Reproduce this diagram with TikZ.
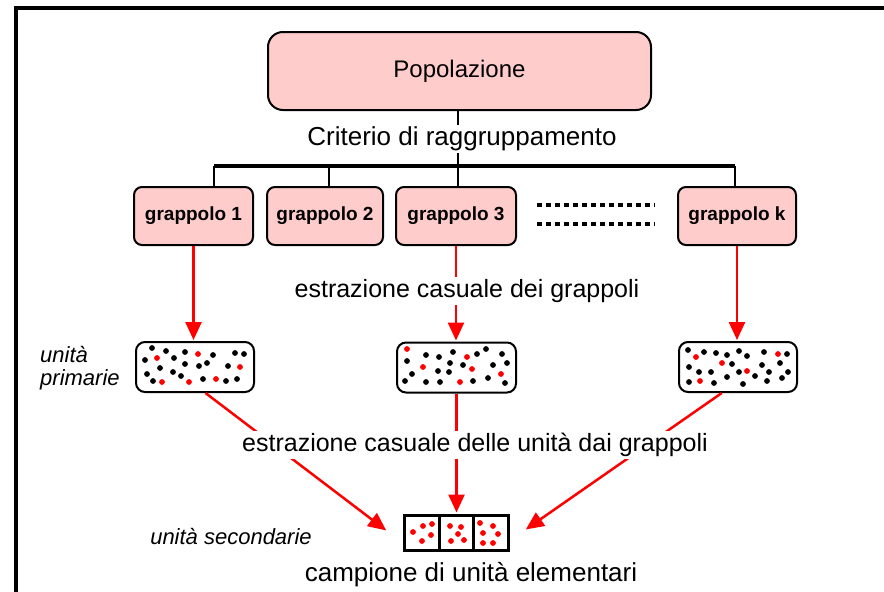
\documentclass[tikz,border=0pt]{standalone}
\usepackage{fontspec}
\setmainfont{Liberation Sans}
\usetikzlibrary{arrows.meta}
\definecolor{pinkfill}{HTML}{FFCCCC}
\definecolor{redline}{HTML}{FF0000}
\begin{document}
\begin{tikzpicture}[x=1pt,y=-1pt,
  popbox/.style={draw, line width=2pt, fill=pinkfill, rounded corners=15pt, inner sep=0pt, font=\fontsize{24}{28}\selectfont},
  gbox/.style={draw, line width=2pt, fill=pinkfill, rounded corners=8pt, inner sep=0pt, minimum height=58pt, font=\fontsize{19}{23}\selectfont\bfseries},
  pbox/.style={draw, line width=2pt, fill=white, rounded corners=9pt, inner sep=0pt, minimum width=118pt, minimum height=50pt},
  sbox/.style={draw, line width=3pt, fill=white, inner sep=0pt, minimum width=34.5pt, minimum height=35pt},
  label/.style={font=\fontsize{25}{30}\selectfont, inner sep=2pt},
  masklabel/.style={label, fill=white},
  ital/.style={font=\fontsize{22}{23}\selectfont\itshape, inner sep=0pt},
  treeline/.style={line width=2.5pt},
  barline/.style={line width=3.5pt},
  dashrow/.style={line width=4pt, dash pattern=on 5pt off 4pt},
  redarrow/.style={draw=redline, line width=2.5pt, -{Triangle[width=16pt,length=18pt]}, redline, shorten >=1pt},
  bdot/.style={fill=black},
  rdot/.style={fill=redline}
]
\useasboundingbox (0,0) rectangle (884,592);
% frame
\draw[line width=3.5pt] (16,600) -- (16,8) -- (900,8);

% top box
\node[popbox, minimum width=383pt, minimum height=78pt] (pop) at (459.5,71) {Popolazione};
\node[label, font=\fontsize{26}{30}\selectfont] (crit) at (462,139) {Criterio di raggruppamento};

% cluster boxes
\node[gbox, minimum width=119pt] (g1) at (193.5,216) {grappolo 1};
\node[gbox, minimum width=116pt] (g2) at (325,216) {grappolo 2};
\node[gbox, minimum width=120pt] (g3) at (456,216) {grappolo 3};
\node[gbox, minimum width=118pt] (gk) at (737,216) {grappolo k};

% tree
\coordinate (d1) at (214,166);
\coordinate (d2) at (329,166);
\coordinate (d3) at (458,166);
\coordinate (dk) at (735,166);
\draw[treeline] (pop.south -| d3) -- (crit.north -| d3);
\draw[treeline] (crit.south -| d3) -- (d3);
\draw[barline] (d1) -- (dk);
\draw[treeline] (d1) -- (d1 |- g1.north);
\draw[treeline] (d2) -- (d2 |- g2.north);
\draw[treeline] (d3) -- (d3 |- g3.north);
\draw[treeline] (dk) -- (dk |- gk.north);

% dotted rows
\draw[dashrow] (537,205) -- (655,205);
\draw[dashrow] (537,224) -- (655,224);

% primary boxes
\node[pbox] (p1) at (195,367) {};
\node[pbox, minimum width=119pt] (p2) at (456.5,367.5) {};
\node[pbox] (p3) at (738,367) {};

% dots box 1
\foreach \a/\b in {152/348,166/351,185/352,213/355,235/353,244/354,145/360,174/358,185/364,199/366,207/363,228/366,160/368,147/374,173/372,181/376,153/381,203/379,226/381,237/379}
  \fill[bdot] (\a,\b) circle[radius=2.9pt];
\foreach \a/\b in {157/358,198/354,240/367,162/382,189/382,216/379}
  \fill[rdot] (\a,\b) circle[radius=2.9pt];
% dots box 2
\foreach \a/\b in {426/355,439/357,453/352,477/354,486/349,502/354,407/361,450/363,463/365,493/365,507/363,412/374,438/371,449/372,405/381,426/382,440/382,473/381,488/378,505/383}
  \fill[bdot] (\a,\b) circle[radius=2.9pt];
\foreach \a/\b in {407/349,467/357,423/367,472/369,501/374,460/382}
  \fill[rdot] (\a,\b) circle[radius=2.9pt];
% dots box 3
\foreach \a/\b in {688/350,704/352,716/353,727/355,739/351,747/356,764/352,787/354,689/367,699/372,711/372,732/364,762/365,780/363,769/372,788/372,689/382,714/383,727/377,739/372,755/376,743/384,767/381,782/378}
  \fill[bdot] (\a,\b) circle[radius=2.9pt];
\foreach \a/\b in {696/357,722/363,747/371,778/354,700/381}
  \fill[rdot] (\a,\b) circle[radius=2.9pt];

% sample boxes
\node[sbox] (s1) at (422,532.5) {};
\node[sbox] (s2) at (456.5,532.5) {};
\node[sbox] (s3) at (491,532.5) {};
\foreach \a/\b in {413/532,423/526,432/524,431/535,422/541,450/526,461/527,458/534,451/541,464/540,480/523,493/526,483/533,498/534,483/543,493/543}
  \fill[rdot] (\a,\b) circle[radius=2.9pt];

% red arrows stage 1
\draw[redarrow] (g1.south) -- (g1.south |- p1.north);
\draw[redarrow] (g3.south) -- (g3.south |- p2.north);
\draw[redarrow] (gk.south) -- (gk.south |- p3.north);

% red arrows stage 2
\coordinate (tipL) at (387,531);
\coordinate (tipR) at (525,530);
\draw[redarrow] (p1.-68) -- (tipL);
\draw[redarrow] (p2.south) -- (s2.north);
\draw[redarrow] (p3.-122) -- (tipR);

% labels that interrupt the arrows
\node[masklabel] (est1) at (467,291) {estrazione casuale dei grappoli};
\node[masklabel] (est2) at (475,445) {estrazione casuale delle unità dai grappoli};
\node[label, font=\fontsize{26}{30}\selectfont] (camp) at (471,575) {campione di unità elementari};

% italic side labels
\node[ital, align=left, anchor=west] (lprim) at (40,368) {unità\\primarie};
\node[ital] (lsec) at (231,537) {unità secondarie};
\end{tikzpicture}
\end{document}
